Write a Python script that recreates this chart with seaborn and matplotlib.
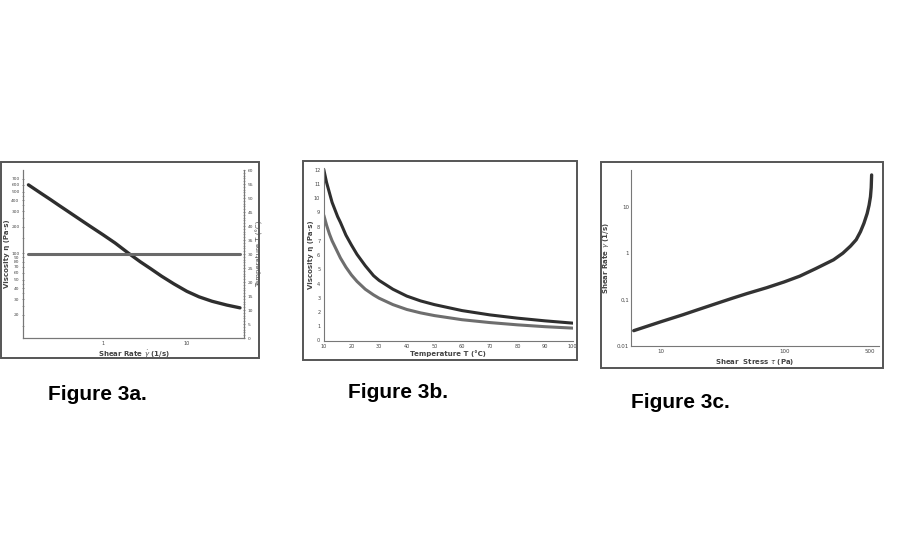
import numpy as np
import pandas as pd
import seaborn as sns
import matplotlib.pyplot as plt
from matplotlib.patches import Rectangle
from matplotlib.ticker import FixedLocator, NullFormatter, MultipleLocator, LogLocator

# Figure 3a: viscosity vs shear rate (log-log), constant temperature on twin axis
rate_a = [0.13, 0.18, 0.24, 0.3, 0.37, 0.5, 0.7, 1, 1.4, 2, 2.8, 3.7, 5, 7, 10, 14, 20, 30, 43]
visc_a = [600, 487, 406, 351, 307, 253, 204, 163, 131, 101, 80, 67, 55, 45, 37, 32, 28.5, 25.8, 24]
temp_rate_a = [0.13, 43]
temp_a = [30, 30]
yticks_a = [20, 30, 40, 50, 60, 70, 80, 90, 100, 200, 300, 400, 500, 600, 700]

# Figure 3b: viscosity vs temperature, two fluids
temp_b = [10, 11, 12, 13, 14, 15, 16, 18, 20, 22, 25, 28, 30, 35, 40, 45, 50, 60, 70, 80, 90, 100]
visc_b_dark = [12, 11.1, 10.4, 9.7, 9.2, 8.7, 8.3, 7.4, 6.7, 6.05, 5.25, 4.55, 4.22, 3.6,
               3.12, 2.78, 2.52, 2.1, 1.8, 1.57, 1.38, 1.22]
visc_b_gray = [8.8, 8.1, 7.5, 7.0, 6.6, 6.2, 5.8, 5.15, 4.6, 4.15, 3.6, 3.2, 2.97, 2.52,
               2.18, 1.94, 1.75, 1.46, 1.26, 1.1, 0.97, 0.87]

# Figure 3c: shear rate vs shear stress (log-log), yield behaviour
stress_c = [6, 10, 15, 20, 30, 38, 50, 72, 100, 134, 180, 252, 300, 346, 385, 417, 445,
            473, 490, 503, 510, 514]
rate_c = [0.0214, 0.0334, 0.047, 0.0608, 0.087, 0.107, 0.135, 0.18, 0.24, 0.32, 0.463,
          0.72, 1.0, 1.42, 1.95, 2.9, 4.4, 7.2, 10.8, 16.5, 26, 48.5]
yticks_c = [0.01, 0.1, 1, 10]
ytick_labels_c = ["0.01", "0,1", "1", "10"]
xticks_c = [10, 100, 500]

captions = ["Figure 3a.", "Figure 3b.", "Figure 3c."]

W, H = 900, 550


def box(l, t, r, b):
    return [l / W, 1 - b / H, (r - l) / W, (b - t) / H]


def frame(fig, l, t, r, b):
    fig.patches.append(Rectangle((l / W, 1 - b / H), (r - l) / W, (b - t) / H,
                                 transform=fig.transFigure, fill=False,
                                 edgecolor="#555555", lw=1.4))


def style_ax(ax):
    for s in ax.spines.values():
        s.set_color("#777777")
        s.set_linewidth(0.8)
    ax.tick_params(which="major", length=2, width=0.6, colors="#777777",
                   labelcolor="#444444", labelsize=3.6, pad=1.5, direction="inout")
    ax.tick_params(which="minor", length=1.2, width=0.5, colors="#888888", direction="inout")


sns.set_theme(style="white")
plt.rcParams["font.family"] = ["DejaVu Sans"]
fig = plt.figure(figsize=(9, 5.5), dpi=100)

lbl = dict(fontsize=5, fontweight="bold", color="#444444")

# ---------- Figure 3a ----------
frame(fig, 1, 162, 259, 358)
ax1 = fig.add_axes(box(23, 170, 244, 338))
sns.lineplot(x=rate_a, y=visc_a, ax=ax1, color="#2e2e2e", lw=2.4, sort=False)
ax1.set_xscale("log")
ax1.set_yscale("log")
ax1.set_xlim(0.112, 48)
ax1.set_ylim(10.9, 885)
ax1.yaxis.set_major_locator(FixedLocator(yticks_a))
ax1.set_yticklabels([str(v) for v in yticks_a])
ax1.yaxis.set_minor_locator(LogLocator(base=10, subs=np.arange(1, 10) * 0.5))
ax1.yaxis.set_minor_formatter(NullFormatter())
ax1.xaxis.set_major_locator(FixedLocator([1, 10]))
ax1.set_xticklabels(["1", "10"])
ax1.xaxis.set_minor_locator(LogLocator(base=10, subs=np.arange(2, 10)))
ax1.xaxis.set_minor_formatter(NullFormatter())
ax1.spines["top"].set_visible(False)
style_ax(ax1)
ax1.tick_params(axis="y", labelsize=3.2)
ax1.set_xlabel(r"Shear Rate $\dot{\gamma}$ (1/s)", labelpad=1, **lbl)
ax1.set_ylabel("Viscosity η (Pa·s)", **lbl)
ax1.yaxis.set_label_coords((10.5 - 23) / 221, 0.5)

ax1b = ax1.twinx()
sns.lineplot(x=temp_rate_a, y=temp_a, ax=ax1b, color="#6a6a6a", lw=2.2)
ax1b.set_ylim(0, 60)
ax1b.yaxis.set_major_locator(MultipleLocator(5))
ax1b.yaxis.set_minor_locator(MultipleLocator(1))
ax1b.spines["top"].set_visible(False)
style_ax(ax1b)
ax1b.tick_params(axis="y", labelsize=3.2)
ax1b.set_ylabel("Temperature T (°C)", fontsize=5, color="#555555", labelpad=2)

# ---------- Figure 3b ----------
frame(fig, 303, 161, 577, 360)
ax2 = fig.add_axes(box(323.8, 168.2, 572.7, 340.5))
df_b = pd.DataFrame({"T": temp_b * 2,
                     "eta": visc_b_dark + visc_b_gray,
                     "fluid": ["A"] * len(temp_b) + ["B"] * len(temp_b)})
sns.lineplot(data=df_b, x="T", y="eta", hue="fluid", ax=ax2,
             palette=["#2e2e2e", "#6e6e6e"], lw=2.2, legend=False)
ax2.set_xlim(10, 100)
ax2.set_ylim(0, 12.1)
ax2.xaxis.set_major_locator(MultipleLocator(10))
ax2.xaxis.set_minor_locator(MultipleLocator(2))
ax2.yaxis.set_major_locator(MultipleLocator(1))
ax2.yaxis.set_minor_locator(MultipleLocator(0.25))
ax2.spines["top"].set_visible(False)
ax2.spines["right"].set_visible(False)
style_ax(ax2)
ax2.set_xlabel("Temperature T (°C)", labelpad=1, **lbl)
ax2.set_ylabel("Viscosity η (Pa·s)", **lbl)
ax2.yaxis.set_label_coords((314 - 323.8) / 248.9, 0.5)

# ---------- Figure 3c ----------
frame(fig, 601, 162, 883, 368)
ax3 = fig.add_axes(box(631, 170, 879, 346))
sns.lineplot(x=stress_c, y=rate_c, ax=ax3, color="#333333", lw=2.4, sort=False)
ax3.set_xscale("log")
ax3.set_yscale("log")
ax3.set_xlim(5.7, 590)
ax3.set_ylim(0.01, 62)
ax3.yaxis.set_major_locator(FixedLocator(yticks_c))
ax3.set_yticklabels(ytick_labels_c)
ax3.yaxis.set_minor_locator(FixedLocator([]))
ax3.xaxis.set_major_locator(FixedLocator(xticks_c))
ax3.set_xticklabels([str(v) for v in xticks_c])
ax3.xaxis.set_minor_locator(LogLocator(base=10, subs=np.arange(2, 10)))
ax3.xaxis.set_minor_formatter(NullFormatter())
ax3.spines["top"].set_visible(False)
ax3.spines["right"].set_visible(False)
style_ax(ax3)
ax3.tick_params(axis="y", which="major", length=0, labelsize=4)
ax3.tick_params(axis="x", labelsize=4)
ax3.set_xlabel(r"Shear  Stress $\tau$ (Pa)", labelpad=2, **lbl)
ax3.set_ylabel(r"Shear Rate $\dot{\gamma}$ (1/s)", **lbl)
ax3.yaxis.set_label_coords((612.5 - 631) / 248, 0.5)

# captions
cap = dict(fontsize=15, fontweight="bold", family=["Liberation Sans", "DejaVu Sans"],
           color="black", va="center", ha="left")
fig.text(48 / W, 1 - 394 / H, captions[0], **cap)
fig.text(348 / W, 1 - 393 / H, captions[1], **cap)
fig.text(631 / W, 1 - 403 / H, captions[2], **cap)

fig.savefig("out.png", dpi=100, facecolor="white")
